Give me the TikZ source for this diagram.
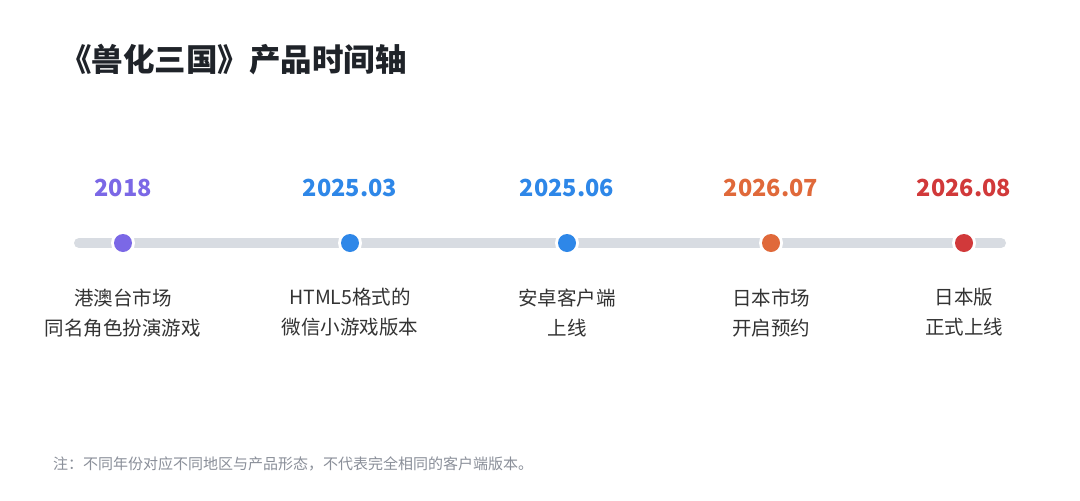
\documentclass[tikz,border=0pt]{standalone}
\usepackage{fontspec}
\setmainfont{Noto Sans CJK SC}
\definecolor{track}{HTML}{D8DCE2}
\definecolor{cpurple}{HTML}{7B68E6}
\definecolor{cblue}{HTML}{2E87E8}
\definecolor{corange}{HTML}{E0693A}
\definecolor{cred}{HTML}{D1393A}
\definecolor{ctitle}{HTML}{1F2329}
\definecolor{cdesc}{HTML}{333333}
\definecolor{cnote}{HTML}{8A8F99}
\tikzset{
  datelbl/.style={font=\fontsize{23.5}{26}\selectfont\bfseries, anchor=center},
  desclbl/.style={font=\fontsize{19.5}{30}\selectfont, text=cdesc, align=center, anchor=north},
  dotring/.style={circle, fill=white, minimum size=24pt, inner sep=0pt},
  dotfill/.style={circle, minimum size=18pt, inner sep=0pt},
}
\begin{document}
\begin{tikzpicture}[x=1pt,y=-1pt]
\useasboundingbox (0,0) rectangle (1080,501);
\fill[white] (0,0) rectangle (1080,501);
\node[anchor=west, font=\fontsize{31.5}{34}\selectfont\bfseries, text=ctitle, inner sep=0pt] (title) at (60,60) {《兽化三国》产品时间轴};
\coordinate (ts) at (79,243);
\coordinate (te) at (1001,243);
\draw[track, line width=10pt, line cap=round] (ts) -- (te);
\foreach \n/\x/\c/\d/\t in {a/123/cpurple/2018/{港澳台市场\\同名角色扮演游戏},
  b/350/cblue/2025.03/{HTML5格式的\\微信小游戏版本},
  c/567/cblue/2025.06/{安卓客户端\\上线},
  d/771/corange/2026.07/{日本市场\\开启预约},
  e/964/cred/2026.08/{日本版\\正式上线}} {
  \node[dotring] (r\n) at (\x,243) {};
  \node[dotfill, fill=\c] (p\n) at (\x,243) {};
  \node[datelbl, text=\c] (y\n) at (\x,188) {\d};
  \node[desclbl] (t\n) at (\x,285) {\t};
}
\node[anchor=west, font=\fontsize{15}{17}\selectfont, text=cnote, inner sep=0pt] (note) at (53,464) {注：不同年份对应不同地区与产品形态，不代表完全相同的客户端版本。};
\end{tikzpicture}
\end{document}
